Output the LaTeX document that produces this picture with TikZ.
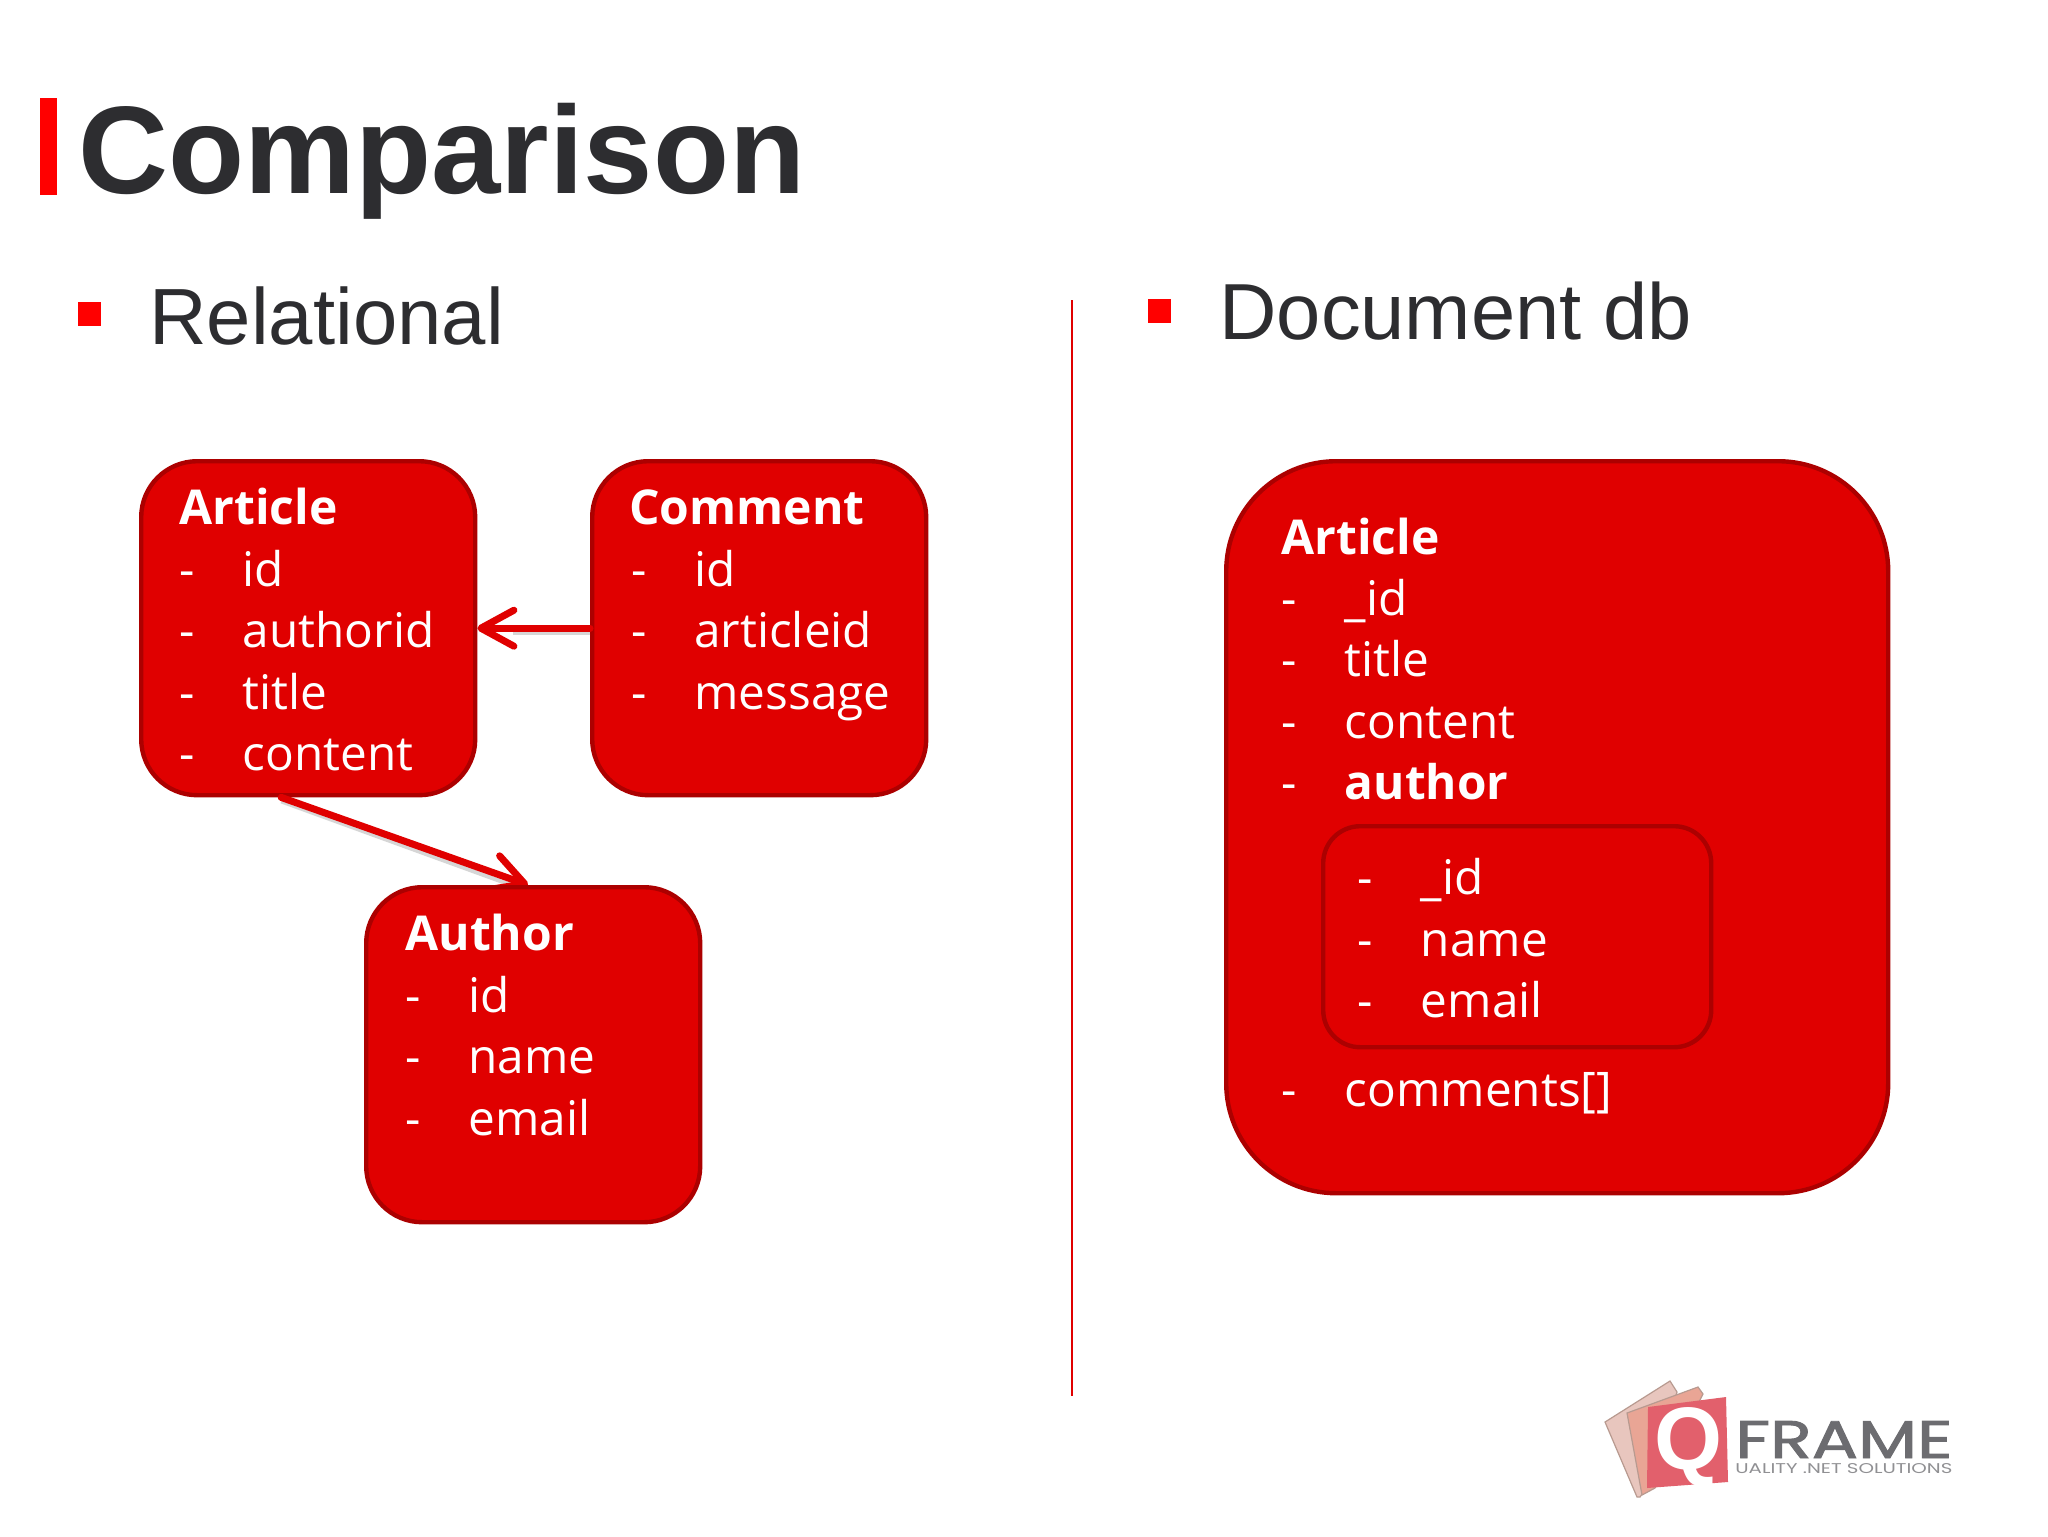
\documentclass[tikz,border=0pt]{standalone}
\usepackage{fontspec}
\usepackage{graphicx}
\setmainfont{Open Sans}
\newfontfamily\arialfont{Liberation Sans}
\newfontfamily\logofont{Poppins}
\newfontfamily\logoheavy[FakeBold=1.6]{Poppins}
\usetikzlibrary{arrows.meta,calc}
\definecolor{boxred}{HTML}{E00000}
\definecolor{boxedge}{HTML}{AC0000}
\definecolor{pure}{HTML}{FF0000}
\definecolor{ink}{HTML}{2D2D30}
\definecolor{logogray}{HTML}{6C6C70}
\definecolor{pageone}{HTML}{E8C6BE}
\definecolor{pagetwo}{HTML}{E9A595}
\definecolor{pagethree}{HTML}{E2606C}
\definecolor{pageedge}{HTML}{B89A90}
\tikzset{
  card/.style={draw=boxedge,line width=2.2pt,fill=boxred,rounded corners=28pt,inner sep=0pt,anchor=north west},
  inset/.style={draw=boxedge,line width=2.2pt,fill=boxred,rounded corners=18.5pt,inner sep=0pt,anchor=north west},
  txt/.style={anchor=base west,inner sep=0pt,text=white,font=\fontsize{23.85}{28}\selectfont},
  head/.style={txt,font=\fontsize{24}{28}\selectfont\bfseries},
  link/.style={draw=boxred,line width=3.5pt,line cap=round,-{Straight Barb[length=16.5pt,width=18pt,line width=3.5pt,round]}},
  linkshade/.style={draw=black!16,line width=2pt},
  slide/.style={anchor=base west,inner sep=0pt,text=ink},
  bullet/.style={fill=pure,draw=none,inner sep=0pt,minimum width=11.5pt,minimum height=12pt,anchor=north west},
  logotext/.style={anchor=base west,inner sep=0pt,text=logogray}
}
\newcommand{\fld}[1]{\makebox[31.5pt][l]{-}#1}
\begin{document}
\begin{tikzpicture}[x=0.5pt,y=-0.5pt]
\useasboundingbox (0,0) rectangle (2048,1536);
\fill[white] (0,0) rectangle (2048,1536);
% heading
\fill[pure] (40,98) rectangle (57,195);
\node[slide,font=\arialfont\fontsize{62.3}{70}\selectfont\bfseries] (title) at (78,193) {Comparison};
\node[bullet] (b1) at (78,302) {};
\node[slide,font=\arialfont\fontsize{39.85}{48}\selectfont] (rel) at (149,344) {Relational};
\node[bullet] (b2) at (1148,299) {};
\node[slide,font=\arialfont\fontsize{39.75}{48}\selectfont] (doc) at (1219,339) {Document db};
\draw[color=boxred,line width=1.35pt] (1072,300) -- (1072,1396);
% relational boxes
\node[card,minimum width=167pt,minimum height=167pt] (article) at (139,459) {};
\node[card,minimum width=167pt,minimum height=167pt] (comment) at (590,459) {};
\coordinate (authortop) at (528,885);
\draw[linkshade] ([shift={(-13.5pt,-2pt)}]article.south) -- ($(authortop)+(-3pt,-2pt)$);
\draw[link] ([xshift=-13.5pt]article.south) -- (authortop);
\node[card,minimum width=167pt,minimum height=167.5pt] (author) at (364,885) {};
\draw[linkshade] ($(comment.west)+(0pt,-2.5pt)$) -- ($(article.east)+(18pt,-2.5pt)$);
\draw[link] (comment.west) -- (article.east);
\node[head] (ah) at (179,524) {Article};
\node[txt] (a2) at (179.5,586) {\fld{id}};
\node[txt] (a3) at (179.5,647) {\fld{authorid}};
\node[txt] (a4) at (179.5,709) {\fld{title}};
\node[txt] (a5) at (179.5,770) {\fld{content}};
\node[head] (ch) at (629,524) {Comment};
\node[txt] (c2) at (631,586) {\fld{id}};
\node[txt] (c3) at (631,647) {\fld{articleid}};
\node[txt] (c4) at (631,709) {\fld{message}};
\node[head] (uh) at (405,950) {Author};
\node[txt] (u2) at (405,1012) {\fld{id}};
\node[txt] (u3) at (405,1073) {\fld{name}};
\node[txt] (u4) at (405,1135) {\fld{email}};
% document box
\node[card,rounded corners=55pt,minimum width=331pt,minimum height=366pt] (docbox) at (1224,459) {};
\node[inset,minimum width=194pt,minimum height=110.5pt] (inner) at (1321,824) {};
\node[head] (dh) at (1281,554) {Article};
\node[txt] (d2) at (1281.5,615) {\fld{\_id}};
\node[txt] (d3) at (1281.5,676) {\fld{title}};
\node[txt] (d4) at (1281.5,738) {\fld{content}};
\node[txt] (d5) at (1281.5,799) {\makebox[31.5pt][l]{-}\textbf{author}};
\node[txt] (i1) at (1357.5,894) {\fld{\_id}};
\node[txt] (i2) at (1357.5,956) {\fld{name}};
\node[txt] (i3) at (1357.5,1017) {\fld{email}};
\node[txt] (d6) at (1281.5,1106) {\fld{comments[]}};
% logo
\fill[pageone,draw=pageedge,line width=0.6pt] (1605,1422) -- (1670,1381) -- (1677,1392) -- (1645,1490) -- (1640,1497) -- (1637,1497) -- cycle;
\fill[pagetwo,draw=pageedge,line width=0.6pt] (1627,1413) -- (1698,1387) -- (1703,1394) -- (1655,1488) -- (1642,1495) -- cycle;
\fill[pagethree] (1648,1407) -- (1726,1397) -- (1728,1482) -- (1647,1488) -- cycle;
\node[inner sep=0pt,text=white] (logoq) at (1688,1447) {\resizebox{34pt}{31pt}{\arialfont\bfseries Q}};
\node[logotext] (logoname) at (1735,1458) {\resizebox{108.5pt}{18.5pt}{\logoheavy FRAME}};
\node[logotext,opacity=0.75] (logotag) at (1735,1473) {\resizebox{108.5pt}{5pt}{\logofont UALITY .NET SOLUTIONS}};
\end{tikzpicture}
\end{document}
